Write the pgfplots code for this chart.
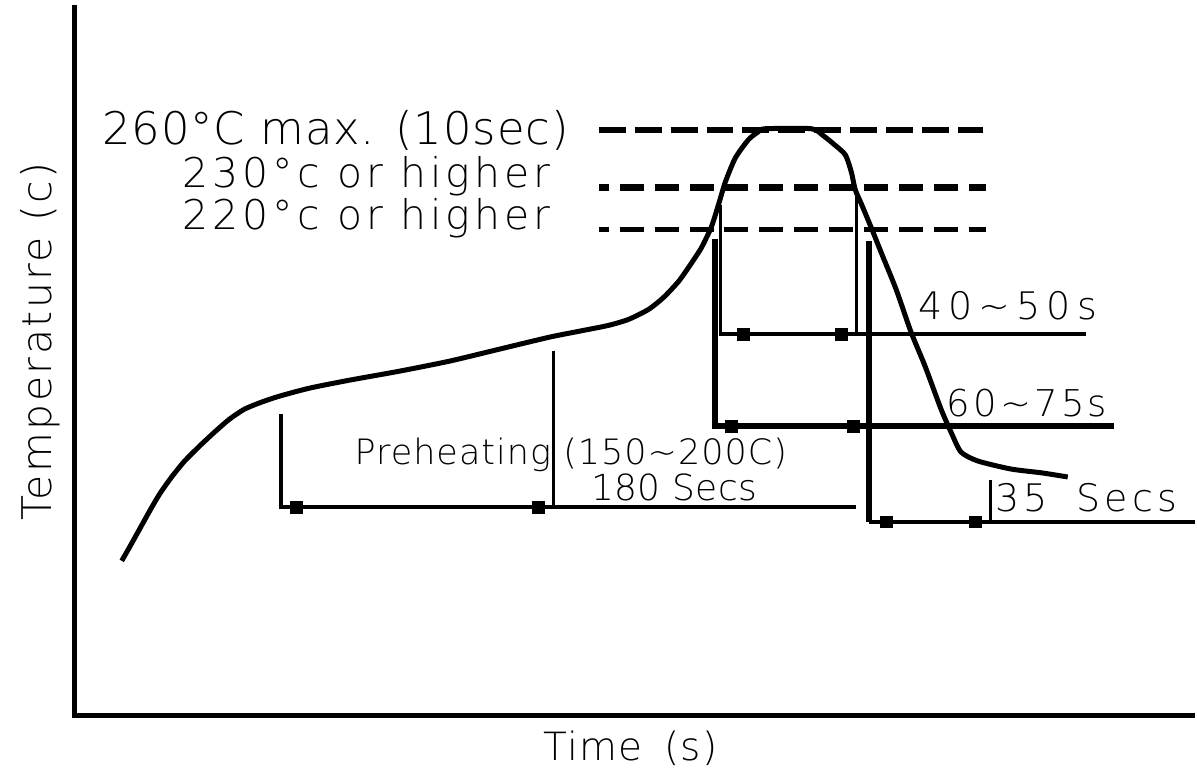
\documentclass[border=0pt]{standalone}
\usepackage{pgfplots}
\pgfplotsset{compat=1.18}
\usepackage{fontspec}
\newfontfamily\cad{DejaVu Sans ExtraLight}
\newcommand{\cadtext}[3]{{\fontsize{#1pt}{#1pt}\cad\addfontfeatures{LetterSpace=#2}#3}}
\begin{document}
\begin{tikzpicture}
\begin{axis}[scale only axis, width=598.5pt, height=390pt,
  xmin=0, xmax=1197, ymin=0, ymax=780, y dir=reverse,
  hide axis, clip=false]
\path (axis cs:0,0) rectangle (axis cs:1197,780);
% axes
\addplot[line width=2.5pt, line join=miter] coordinates {(75,5) (75,717) (1197,717)};
% profile curve
\addplot[line width=2.5pt, smooth, tension=0.4] coordinates {
(122,562) (130,548) (140,530) (150,512) (160,495) (172,478) (185,462) (200,447)
(215,433) (230,420) (245,410) (262,403) (280,397) (310,389) (350,381) (400,372)
(450,362) (500,350) (550,338) (580,332) (610,326) (630,320) (650,310) (665,298)
(680,282) (692,265) (703,248) (713,227) (720,205) (727,182) (737,158) (750,140)
(760,132) (767,129) (813,129) (825,136) (835,144) (847,155) (853,172) (857,190)
(863,204) (873,228) (883,253) (898,290) (913,333) (927,367) (943,410) (953,433)
(963,453) (980,462) (1013,470) (1045,474) (1070,478)};
% dashed limit lines
\addplot[line width=3pt, dash pattern=on 13.5pt off 4.5pt] coordinates {(600,130) (985,130)};
\addplot[line width=3.5pt, dash pattern=on 12pt off 5.5pt, dash phase=7pt] coordinates {(600,188) (988,188)};
\addplot[line width=2.5pt, dash pattern=on 12pt off 5.5pt, dash phase=7pt] coordinates {(600,230) (988,230)};
% preheating
\addplot[line width=2pt, line join=miter] coordinates {(282,415) (282,508) (858,508)};
\addplot[line width=1.5pt] coordinates {(555,352) (555,508)};
% 40~50s
\addplot[line width=2pt, line join=miter] coordinates {(722,205) (722,335) (1088,335)};
\addplot[line width=1.5pt] coordinates {(858,192) (858,335)};
% 60~75s
\addplot[line width=3pt, line join=miter] coordinates {(716,240) (716,427) (1116,427)};
% 35 secs
\addplot[line width=3pt] coordinates {(871,242) (871,523)};
\addplot[line width=2pt] coordinates {(871,523) (1197,523)};
\addplot[line width=1.5pt] coordinates {(993,481) (993,523)};
% markers
\addplot[only marks, mark=square*, mark size=3pt] coordinates {
(297,508) (540,508) (745,335) (843,335) (733,427) (855,427) (888,523) (977,523)};
% texts
\node[anchor=base west, inner sep=0] at (axis cs:102,145) {\cadtext{22.5}{2}{260°C max. (10sec)}};
\node[anchor=base east, inner sep=0] at (axis cs:552,188) {\cadtext{20.5}{10}{230°c or higher}};
\node[anchor=base east, inner sep=0] at (axis cs:552,230) {\cadtext{20.5}{10}{220°c or higher}};
\node[anchor=base west, inner sep=0] at (axis cs:355,465) {\cadtext{17.5}{3}{Preheating (150\textasciitilde 200C)}};
\node[anchor=base west, inner sep=0] at (axis cs:592,502) {\cadtext{18}{1}{180\hspace{6pt}Secs}};
\node[anchor=base west, inner sep=0] at (axis cs:920,320) {\cadtext{19}{16}{40\textasciitilde 50s}};
\node[anchor=base west, inner sep=0] at (axis cs:948,417) {\cadtext{18.5}{9}{60\textasciitilde 75s}};
\node[anchor=base west, inner sep=0] at (axis cs:997,513) {\cadtext{19}{12}{35\hspace{14pt}Secs}};
\node[anchor=base, inner sep=0] at (axis cs:632,762) {\cadtext{19.5}{3}{Time\hspace{11pt}(s)}};
\node[anchor=base, inner sep=0, rotate=90] at (axis cs:52,342) {\cadtext{20.5}{6}{Temperature (c)}};
\end{axis}
\end{tikzpicture}
\end{document}
